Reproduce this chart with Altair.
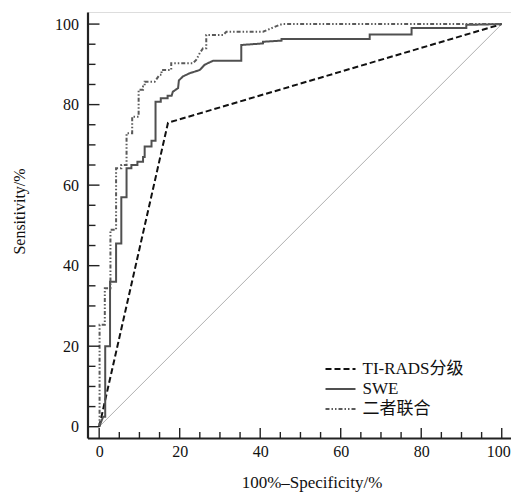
import altair as alt
import pandas as pd

series_names = ["TI-RADS分级", "SWE", "二者联合"]

tirads_x = [0, 17.1, 100]
tirads_y = [0, 75.5, 100]

swe_x = [0, 1.0, 1.5, 1.5, 2.7, 2.7, 4.2, 4.2, 5.5, 5.5, 6.8, 6.8, 8.0, 8.0, 9.5, 9.5,
         10.9, 10.9, 11.3, 11.3, 13.0, 13.0, 14.0, 14.0, 15.3, 15.3, 17.0, 17.0, 18.0,
         18.3, 19.6, 19.8, 20.8, 22.5, 25.0, 26.2, 28.3, 35.3, 35.3, 40.7, 40.7, 45.3,
         45.3, 67.2, 67.2, 77.6, 77.6, 91.2, 91.2, 100]
swe_y = [0, 2.5, 2.5, 20.0, 20.0, 36.0, 36.0, 45.5, 45.5, 57.0, 57.0, 64.2, 64.2, 65.0,
         65.0, 65.8, 65.8, 67.0, 67.0, 69.6, 69.6, 71.0, 71.0, 80.7, 80.7, 81.6, 81.6,
         82.2, 82.2, 83.2, 84.1, 86.0, 87.0, 87.8, 88.6, 89.9, 90.9, 90.9, 94.8, 95.2,
         95.6, 95.9, 96.3, 96.3, 97.4, 97.4, 99.0, 99.0, 99.8, 100]

comb_x = [0, 0.1, 0.1, 1.4, 1.4, 2.8, 2.8, 4.2, 4.2, 5.5, 5.5, 6.8, 6.8, 8.2, 8.2, 9.8,
          9.8, 10.9, 10.9, 11.3, 11.3, 13.8, 15.0, 15.5, 15.5, 17.9, 17.9, 23.3, 24.1,
          25.0, 25.8, 26.6, 26.6, 30.8, 31.6, 40.7, 44.8, 45.5, 100]
comb_y = [0, 1.5, 25.3, 25.3, 34.4, 34.4, 48.9, 48.9, 64.2, 64.2, 65.0, 65.0, 72.9, 72.9,
          77.0, 77.0, 83.7, 83.7, 84.5, 84.5, 85.7, 85.7, 87.4, 87.4, 88.6, 88.6, 90.3,
          90.3, 91.1, 92.8, 94.0, 94.0, 97.3, 97.3, 98.1, 98.1, 99.8, 100, 100]

diag_x = [0, 100]
diag_y = [0, 100]

x_ticks_major = [0, 20, 40, 60, 80, 100]
x_ticks_minor = [5, 10, 15, 25, 30, 35, 45, 50, 55, 65, 70, 75, 85, 90, 95]
y_ticks_major = [0, 20, 40, 60, 80, 100]
y_ticks_minor = [5, 10, 15, 25, 30, 35, 45, 50, 55, 65, 70, 75, 85, 90, 95]

rows = []
for name, xs, ys in zip(series_names, [tirads_x, swe_x, comb_x], [tirads_y, swe_y, comb_y]):
    for i, (xv, yv) in enumerate(zip(xs, ys)):
        rows.append({"series": name, "x": xv, "y": yv, "idx": i})
curves = pd.DataFrame(rows)
diag = pd.DataFrame({"x": diag_x, "y": diag_y})

W, H = 423.5, 426
FONT = "Liberation Serif, 'Noto Sans CJK SC'"

xscale = alt.Scale(domain=[-2.9, 102.3], nice=False, zero=False)
yscale = alt.Scale(domain=[-2.8, 103.0], nice=False, zero=False)

xaxis = alt.Axis(values=x_ticks_major, ticks=False, tickSize=0, grid=False,
                 domainColor="#222", domainWidth=2.2, labelFont=FONT, labelFontSize=16,
                 labelColor="#111", labelPadding=5, format="d",
                 labelOffset={"condition": {"test": "datum.value === 100", "value": -3.5},
                              "value": 0},
                 titleFont=FONT, titleFontSize=17, titleFontWeight="normal", titleColor="#111",
                 titleX=224, titleY=49.5, titleBaseline="alphabetic", titleAlign="center")
yaxis = alt.Axis(values=y_ticks_major, ticks=False, tickSize=0, grid=False,
                 domainColor="#222", domainWidth=2.2, labelFont=FONT, labelFontSize=16,
                 labelColor="#111", labelPadding=9, format="d",
                 titleFont=FONT, titleFontSize=16, titleFontWeight="normal", titleColor="#111",
                 titleX=-68.5, titleY=199, titleAngle=270, titleBaseline="middle",
                 titleAlign="center")

XT = "100%–Specificity/%"
YT = "Sensitivity/%"


def X(field):
    return alt.X(f"{field}:Q", scale=xscale, axis=xaxis, title=XT)


def Y(field):
    return alt.Y(f"{field}:Q", scale=yscale, axis=yaxis, title=YT)


legend = alt.Legend(title=None, orient="none", legendX=242, legendY=346,
                    symbolType="M-1.5,0L1.5,0", symbolSize=400, symbolStrokeWidth=2,
                    labelFont=FONT, labelFontSize=17, labelColor="#111",
                    labelOffset=11, rowPadding=1, padding=0)

diag_layer = alt.Chart(diag).mark_line(color="#b0b0b0", strokeWidth=1).encode(
    x=X("x"), y=Y("y"))

curve_layer = alt.Chart(curves).mark_line(strokeCap="butt").encode(
    x=X("x"),
    y=Y("y"),
    order=alt.Order("idx:Q"),
    color=alt.Color("series:N", scale=alt.Scale(domain=series_names,
                                                range=["#111111", "#505050", "#5a5a5a"]),
                    legend=legend),
    strokeDash=alt.StrokeDash("series:N", scale=alt.Scale(
        domain=series_names, range=[[6, 3], [1, 0], [4, 2, 1.5, 2, 1.5, 2]]), legend=legend),
    strokeWidth=alt.StrokeWidth("series:N", scale=alt.Scale(
        domain=series_names, range=[2, 2, 1.6]), legend=legend),
)

xt_major = pd.DataFrame({"v": x_ticks_major})
xt_minor = pd.DataFrame({"v": x_ticks_minor})
yt_major = pd.DataFrame({"v": y_ticks_major})
yt_minor = pd.DataFrame({"v": y_ticks_minor})

tick_style = dict(color="#222", strokeWidth=1.4)

xtm = alt.Chart(xt_major).mark_rule(**tick_style).encode(
    x=X("v"), y=alt.value(H), y2=alt.value(H - 10))
xtn = alt.Chart(xt_minor).mark_rule(**tick_style).encode(
    x=X("v"), y=alt.value(H), y2=alt.value(H - 6))
ytm = alt.Chart(yt_major).mark_rule(**tick_style).encode(
    y=Y("v"), x=alt.value(0), x2=alt.value(12))
ytn = alt.Chart(yt_minor).mark_rule(**tick_style).encode(
    y=Y("v"), x=alt.value(0), x2=alt.value(8))

chart = alt.layer(diag_layer, curve_layer, xtm, xtn, ytm, ytn).properties(
    width=W, height=H,
    autosize=alt.AutoSizeParams(type="none"),
    padding={"left": 79.5, "top": 4, "right": 0, "bottom": 70},
).configure_view(stroke=None).configure(background="white")

chart.save("out.html", embed_options={"renderer": "svg", "actions": False})
